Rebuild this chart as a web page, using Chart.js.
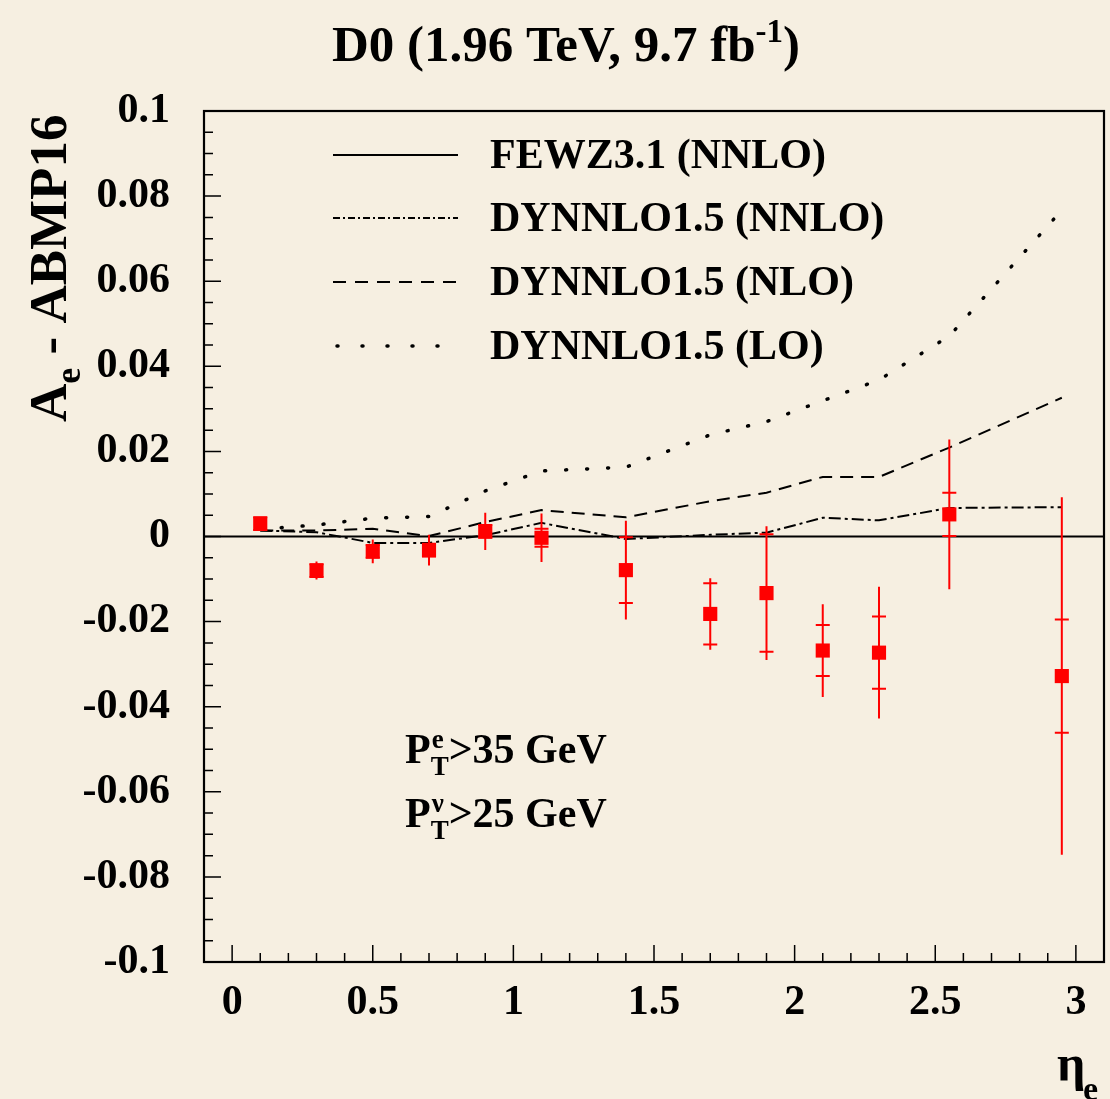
<!DOCTYPE html>
<html>
<head>
<meta charset="utf-8">
<script src="https://cdn.jsdelivr.net/npm/chart.js@4.4.0/dist/chart.umd.min.js"></script>
<style>
    html, body { margin: 0; padding: 0; background: #f6efe1; }
    canvas { display: block; }
</style>
</head>
<body>
<canvas id="chart" width="1110" height="1099"></canvas>
<script>
// eta bin centres and D0 measurement (A_e - ABMP16)
const etaBins = [0.1, 0.3, 0.5, 0.7, 0.9, 1.1, 1.4, 1.7, 1.9, 2.1, 2.3, 2.55, 2.95];
const d0Values = [0.0030, -0.0080, -0.0035, -0.0032, 0.0012, -0.0003, -0.0079, -0.0182, -0.0133, -0.0268, -0.0273, 0.0052, -0.0328];
const d0StatErr = [0.0015, 0.0015, 0.0015, 0.0015, 0.0015, 0.0021, 0.0077, 0.0072, 0.0138, 0.0060, 0.0085, 0.0051, 0.0133];
const d0TotErr = [0.0017, 0.0021, 0.0028, 0.0036, 0.0044, 0.0057, 0.0116, 0.0084, 0.0157, 0.0109, 0.0155, 0.0176, 0.0420];

// theory curves relative to ABMP16
const fewzX = [-0.1, 3.1];
const fewzY = [0, 0];
const dynnloNNLO = [0.0014, 0.0010, -0.0015, -0.0015, 0.0003, 0.0032, -0.0006, 0.0004, 0.0009, 0.0044, 0.0038, 0.0067, 0.0069];
const dynnloNLO = [0.0014, 0.0014, 0.0018, 0.0001, 0.0034, 0.0062, 0.0045, 0.0083, 0.0103, 0.0140, 0.0140, 0.0209, 0.0326];
const dynnloLO = [0.0017, 0.0027, 0.0043, 0.0047, 0.0107, 0.0154, 0.0163, 0.0239, 0.0270, 0.0319, 0.0368, 0.0471, 0.0767];

const xTickVals = [0, 0.5, 1, 1.5, 2, 2.5, 3];
const xTickLabels = ['0', '0.5', '1', '1.5', '2', '2.5', '3'];
const yTickVals = [0.1, 0.08, 0.06, 0.04, 0.02, 0, -0.02, -0.04, -0.06, -0.08, -0.1];
const yTickLabels = ['0.1', '0.08', '0.06', '0.04', '0.02', '0', '-0.02', '-0.04', '-0.06', '-0.08', '-0.1'];

const legendNames = ['FEWZ3.1 (NNLO)', 'DYNNLO1.5 (NNLO)', 'DYNNLO1.5 (NLO)', 'DYNNLO1.5 (LO)'];

const SERIF = '"Liberation Serif", "Times New Roman", serif';
const BG = '#f6efe1';

function toPoints(xs, ys) {
    return xs.map((x, i) => ({ x: x, y: ys[i] }));
}

function boldFont(size) {
    return 'bold ' + size + 'px ' + SERIF;
}

const rootPlot = {
    id: 'rootPlot',
    beforeDraw(chart) {
        const ctx = chart.ctx;
        ctx.save();
        ctx.fillStyle = BG;
        ctx.fillRect(0, 0, chart.width, chart.height);
        ctx.restore();
    },
    beforeDatasetDraw(chart, args) {
        if (args.index !== 0) return;
        const ctx = chart.ctx;
        const xs = chart.scales.x;
        const ys = chart.scales.y;
        ctx.save();
        ctx.strokeStyle = '#ff0000';
        ctx.lineWidth = 2;
        etaBins.forEach((eta, i) => {
            const px = xs.getPixelForValue(eta);
            const c = d0Values[i];
            ctx.beginPath();
            ctx.moveTo(px, ys.getPixelForValue(c + d0TotErr[i]));
            ctx.lineTo(px, ys.getPixelForValue(c - d0TotErr[i]));
            [c + d0StatErr[i], c - d0StatErr[i]].forEach(v => {
                const py = ys.getPixelForValue(v);
                ctx.moveTo(px - 7, py);
                ctx.lineTo(px + 7, py);
            });
            ctx.stroke();
        });
        ctx.restore();
    },
    afterDraw(chart) {
        const ctx = chart.ctx;
        const area = chart.chartArea;
        const xs = chart.scales.x;
        const ys = chart.scales.y;
        ctx.save();

        // frame
        ctx.strokeStyle = '#000';
        ctx.lineWidth = 2.2;
        ctx.strokeRect(area.left, area.top, area.right - area.left, area.bottom - area.top);

        // ticks inside the frame
        ctx.lineWidth = 1.5;
        ctx.beginPath();
        for (let k = -1; k <= 31; k++) {
            const px = xs.getPixelForValue(k / 10);
            const len = (k % 5 === 0) ? 17 : 9;
            ctx.moveTo(px, area.bottom);
            ctx.lineTo(px, area.bottom - len);
        }
        for (let k = -20; k <= 20; k++) {
            const py = ys.getPixelForValue(k * 0.005);
            const len = (k % 4 === 0) ? 17 : 9;
            ctx.moveTo(area.left, py);
            ctx.lineTo(area.left + len, py);
        }
        ctx.stroke();

        // legend
        const rows = [155, 218, 282, 346];
        const dashes = [[], [7, 3, 2, 3], [13, 9], [1, 24]];
        ctx.fillStyle = '#000';
        ctx.font = boldFont(42);
        ctx.textBaseline = 'middle';
        ctx.textAlign = 'left';
        rows.forEach((ry, i) => {
            ctx.save();
            ctx.beginPath();
            ctx.setLineDash(dashes[i]);
            ctx.lineWidth = i === 3 ? 3.5 : 2;
            ctx.lineCap = i === 3 ? 'round' : 'butt';
            ctx.moveTo(i === 3 ? 337 : 333, ry);
            ctx.lineTo(458, ry);
            ctx.stroke();
            ctx.restore();
            ctx.fillText(legendNames[i], 490, ry + 2);
        });

        ctx.textBaseline = 'alphabetic';

        // title
        ctx.font = boldFont(51);
        const t1 = 'D0 (1.96 TeV, 9.7 fb';
        const t2 = '-1';
        const t3 = ')';
        const w1 = ctx.measureText(t1).width;
        const w3 = ctx.measureText(t3).width;
        ctx.font = boldFont(33);
        const w2 = ctx.measureText(t2).width;
        const tx = 566 - (w1 + w2 + w3) / 2;
        ctx.font = boldFont(51);
        ctx.fillText(t1, tx, 61);
        ctx.fillText(t3, tx + w1 + w2, 61);
        ctx.font = boldFont(33);
        ctx.fillText(t2, tx + w1, 42);

        // y axis title
        ctx.save();
        ctx.translate(66, 422);
        ctx.rotate(-Math.PI / 2);
        ctx.font = boldFont(53);
        const wa = ctx.measureText('A').width;
        ctx.fillText('A', 0, 0);
        ctx.font = boldFont(36);
        const we = ctx.measureText('e').width;
        ctx.fillText('e', wa, 14);
        ctx.font = boldFont(53);
        ctx.fillText(' - ABMP16', wa + we, 0);
        ctx.restore();

        // cut annotations
        const cuts = [['e', '>35 GeV', 763], ['\u03bd', '>25 GeV', 827]];
        cuts.forEach(c => {
            ctx.font = boldFont(42);
            const wp = ctx.measureText('P').width;
            ctx.fillText('P', 405, c[2]);
            ctx.font = boldFont(27);
            const ws = Math.max(ctx.measureText(c[0]).width, ctx.measureText('T').width);
            ctx.fillText(c[0], 405 + wp + 1, c[2] - 15);
            ctx.fillText('T', 405 + wp, c[2] + 12);
            ctx.font = boldFont(42);
            ctx.fillText(c[1], 405 + wp + ws, c[2]);
        });

        // x axis title
        ctx.font = boldFont(50);
        ctx.fillText('\u03b7', 1057, 1080);
        ctx.font = boldFont(34);
        ctx.fillText('e', 1083, 1100);

        ctx.restore();
    }
};

const tickFont = { family: SERIF, size: 42, weight: 'bold' };

const chart = new Chart(document.getElementById('chart'), {
    type: 'scatter',
    data: {
        datasets: [
            {
                label: 'D0 data',
                data: toPoints(etaBins, d0Values),
                pointStyle: 'rect',
                pointRadius: 10,
                pointHoverRadius: 10,
                backgroundColor: '#ff0000',
                borderWidth: 0,
                showLine: false
            },
            {
                label: legendNames[0],
                data: toPoints(fewzX, fewzY),
                showLine: true,
                borderColor: '#000000',
                borderWidth: 2,
                pointRadius: 0
            },
            {
                label: legendNames[1],
                data: toPoints(etaBins, dynnloNNLO),
                showLine: true,
                borderColor: '#000000',
                borderWidth: 2,
                borderDash: [12, 4, 3, 4],
                pointRadius: 0
            },
            {
                label: legendNames[2],
                data: toPoints(etaBins, dynnloNLO),
                showLine: true,
                borderColor: '#000000',
                borderWidth: 2,
                borderDash: [13, 8],
                pointRadius: 0
            },
            {
                label: legendNames[3],
                data: toPoints(etaBins, dynnloLO),
                showLine: true,
                borderColor: '#000000',
                borderWidth: 3.5,
                borderDash: [1, 20],
                borderCapStyle: 'round',
                pointRadius: 0
            }
        ]
    },
    options: {
        responsive: false,
        animation: false,
        events: [],
        layout: {
            autoPadding: false,
            padding: { top: 111, right: 6, left: 0, bottom: 0 }
        },
        plugins: {
            legend: { display: false },
            tooltip: { enabled: false }
        },
        scales: {
            x: {
                type: 'linear',
                min: -0.1,
                max: 3.1,
                afterBuildTicks: (scale) => {
                    scale.ticks = xTickVals.map(v => ({ value: v }));
                },
                afterFit: (scale) => {
                    scale.height = 137;
                    scale.paddingLeft = 0;
                    scale.paddingRight = 0;
                },
                grid: { display: false, drawTicks: false },
                border: { display: false },
                ticks: {
                    autoSkip: false,
                    maxRotation: 0,
                    padding: 16,
                    color: '#000000',
                    font: tickFont,
                    callback: (value, index) => xTickLabels[index]
                }
            },
            y: {
                type: 'linear',
                min: -0.1,
                max: 0.1,
                afterBuildTicks: (scale) => {
                    scale.ticks = yTickVals.map(v => ({ value: v }));
                },
                afterFit: (scale) => {
                    scale.width = 204;
                },
                grid: { display: false, drawTicks: false },
                border: { display: false },
                ticks: {
                    autoSkip: false,
                    padding: 34,
                    color: '#000000',
                    font: tickFont,
                    callback: (value, index) => yTickLabels[index]
                }
            }
        }
    },
    plugins: [rootPlot]
});
</script>
</body>
</html>
